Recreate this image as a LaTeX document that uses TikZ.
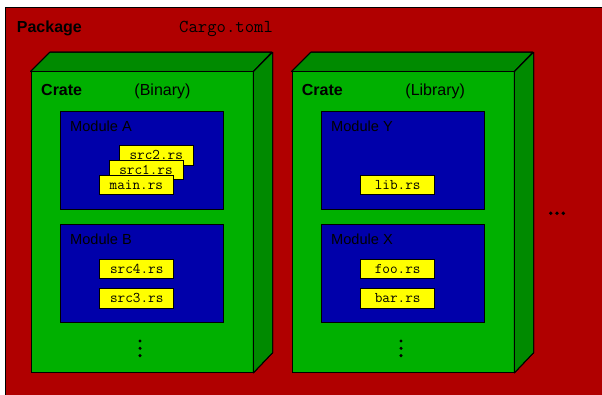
\documentclass[tikz,border=0pt]{standalone}
\usepackage{fontspec}
\setmainfont{Liberation Sans}
\definecolor{pkgred}{RGB}{176,0,0}
\definecolor{cratefront}{RGB}{0,176,0}
\definecolor{crateshade}{RGB}{0,138,0}
\definecolor{modblue}{RGB}{0,0,170}
\definecolor{fileyellow}{RGB}{255,255,0}
\tikzset{
  edge/.style={draw=black, line width=0.9pt},
  pkgbox/.style={edge, fill=pkgred, anchor=north west, inner sep=0pt},
  cratefront/.style={edge, fill=cratefront, anchor=north west, inner sep=0pt,
    minimum width=222pt, minimum height=300.5pt},
  crateface/.style={edge, fill=crateshade, line join=round},
  modbox/.style={edge, fill=modblue, anchor=north west, inner sep=0pt,
    minimum width=162.5pt, minimum height=98.3pt},
  filebox/.style={edge, fill=fileyellow, inner sep=0pt,
    minimum width=74pt, minimum height=19.5pt,
    font=\fontsize{14.8}{16}\selectfont\ttfamily},
  biglabel/.style={anchor=base west, inner sep=0pt, font=\fontsize{16}{19}\selectfont\bfseries},
  kindlabel/.style={anchor=base, inner sep=0pt, font=\fontsize{16}{19}\selectfont},
  modlabel/.style={anchor=base west, inner sep=0pt, font=\fontsize{14.6}{17}\selectfont},
  dot/.style={fill=black}
}
\newcommand{\crateshape}[1]{%
  \fill[crateface] (#1.north west) -- ++(19.3,-19.3) -- ++(222,0)
    -- (#1.north east) -- cycle;
  \fill[crateface] (#1.north east) -- ++(19.3,-19.3) -- ++(0,300.5)
    -- (#1.south east) -- cycle;
  \draw[edge, line join=round] (#1.north west) -- ++(19.3,-19.3) -- ++(222,0)
    -- (#1.north east) (#1.north east) ++(19.3,-19.3) -- ++(0,300.5)
    -- (#1.south east);
}
\begin{document}
\begin{tikzpicture}[x=1pt,y=-1pt]
\useasboundingbox (0,0) rectangle (602,395);
\clip (0,0) rectangle (602,395);
\fill[white] (0,0) rectangle (602,395);

% package
\node[pkgbox, minimum width=640pt, minimum height=420pt] (pkg) at (5,7) {};
\node[biglabel] (pkgname) at (16.7,32.3) {Package};
\node[anchor=base west, inner sep=0pt, font=\fontsize{18.2}{20}\selectfont\ttfamily]
  (manifest) at (179,32.3) {Cargo.toml};

% binary crate
\node[cratefront] (bin) at (30.5,71.5) {};
\crateshape{bin}
\node[biglabel] (binname) at (41,95.7) {Crate};
\node[kindlabel] (binkind) at (162.5,95.7) {(Binary)};

\node[modbox] (moda) at (60,111) {};
\node[modlabel] (modaname) at (70,131.7) {Module A};
\node[filebox] (src2) at (156.3,155.4) {src2.rs};
\node[filebox] (src1) at (146,170.2) {src1.rs};
\node[filebox] (mainrs) at (136.4,185.2) {main.rs};

\node[modbox] (modb) at (60,224) {};
\node[modlabel] (modbname) at (70,244.7) {Module B};
\node[filebox] (src4) at (136.7,268.8) {src4.rs};
\node[filebox] (src3) at (136.7,298.2) {src3.rs};

\fill[dot] (140,341) circle (1.7) (140,348.3) circle (1.7) (140,355.6) circle (1.7);

% library crate
\node[cratefront] (lib) at (291.5,71.5) {};
\crateshape{lib}
\node[biglabel] (libname) at (301.7,95.7) {Crate};
\node[kindlabel] (libkind) at (435.2,95.7) {(Library)};

\node[modbox] (mody) at (321,111) {};
\node[modlabel] (modyname) at (331,131.7) {Module Y};
\node[filebox] (librs) at (397.7,185) {lib.rs};

\node[modbox] (modx) at (321,224) {};
\node[modlabel] (modxname) at (331,244.7) {Module X};
\node[filebox] (foors) at (397.7,268.8) {foo.rs};
\node[filebox] (barrs) at (397.7,298.2) {bar.rs};

\fill[dot] (401,341) circle (1.7) (401,348.3) circle (1.7) (401,355.6) circle (1.7);

% more crates
\fill[dot] (550.7,213.3) circle (1.9) (557,213.3) circle (1.9) (563.3,213.3) circle (1.9);
\end{tikzpicture}
\end{document}
